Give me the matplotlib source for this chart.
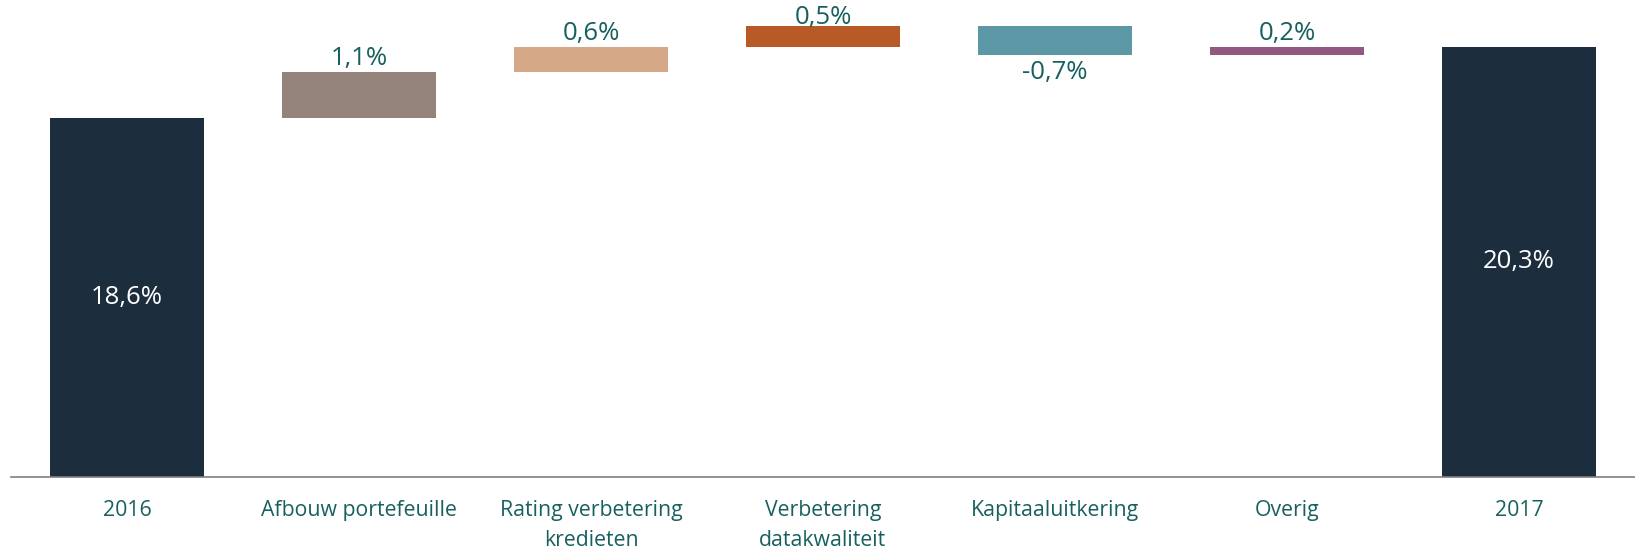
import numpy as np
import matplotlib.pyplot as plt

plt.rcParams['font.family'] = ['Open Sans', 'DejaVu Sans']

# waterfall data (percentages)
categories = ['2016', 'Afbouw portefeuille', 'Rating verbetering\nkredieten',
              'Verbetering\ndatakwaliteit', 'Kapitaaluitkering', 'Overig', '2017']
start_value = 18.6
changes = [1.1, 0.6, 0.5, -0.7, 0.2]
end_value = 20.3
colors = ['#1c2e3d', '#94837a', '#d5a887', '#b85a27', '#5b97a5', '#925881', '#1c2e3d']

txt_col = '#17605f'
ymin = 10.0
ytop = 21.43

fig = plt.figure(figsize=(16.35, 5.5), dpi=100)
ax = fig.add_axes([0.0067, 0.1336, 0.9933, 0.8664])

# bottoms and heights
cum = start_value + np.concatenate([[0], np.cumsum(changes)])
bottoms = [ymin]
heights = [start_value - ymin]
for i, c in enumerate(changes):
    bottoms.append(min(cum[i], cum[i + 1]))
    heights.append(abs(c))
bottoms.append(ymin)
heights.append(end_value - ymin)

x = np.arange(len(categories))
ax.bar(x, heights, bottom=bottoms, width=0.665, color=colors, zorder=2)

def fmt(v):
    return ('%.1f%%' % v).replace('.', ',')

# totals inside
for xi, v in [(0, start_value), (len(categories) - 1, end_value)]:
    ax.text(xi, (ymin + v) / 2, fmt(v), ha='center', va='center',
            color='white', fontsize=18.5)

# change labels
for i, c in enumerate(changes):
    xi = i + 1
    top = bottoms[xi] + heights[xi]
    if c >= 0:
        y = min(top + 0.315, ytop - 0.42)
    else:
        y = bottoms[xi] - 0.42
    ax.text(xi, y, fmt(c), ha='center', va='center', color=txt_col, fontsize=18.5)

ax.set_xlim(-0.5, len(categories) - 0.5)
ax.set_ylim(ymin, ytop)
ax.set_xticks(x)
ax.set_xticklabels(categories, color=txt_col, fontsize=15.3, linespacing=1.55, va='top')
ax.tick_params(axis='x', length=0, pad=17)
ax.set_yticks([])
for s in ['top', 'right', 'left']:
    ax.spines[s].set_visible(False)
ax.spines['bottom'].set_color('#7f7f7f')
ax.spines['bottom'].set_linewidth(1.2)

fig.savefig('out.png', dpi=100)
